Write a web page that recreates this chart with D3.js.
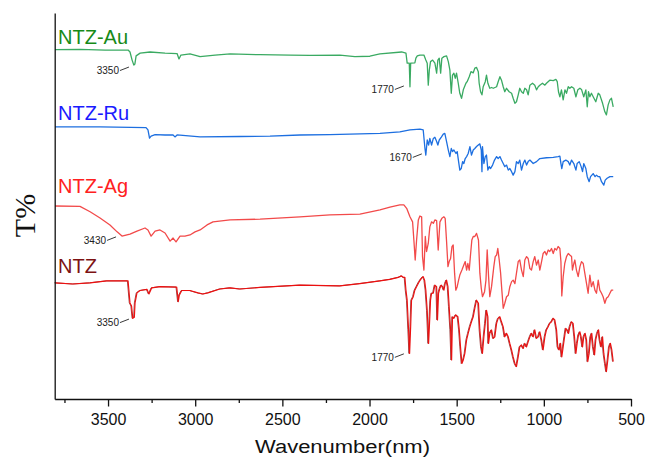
<!DOCTYPE html>
<html>
<head>
<meta charset="utf-8">
<script src="https://cdn.jsdelivr.net/npm/d3@7/dist/d3.min.js"></script>
<style>
  body { margin: 0; background: #fff; }
  svg { display: block; font-family: "Liberation Sans", Arial, sans-serif; }
</style>
</head>
<body>
<div id="chart"></div>
<script>
// FTIR spectra: [wavenumber (cm-1), T% (stacked, arbitrary offset)]
const ntzAu = [
  [3804,90.5],[3660,90.6],[3517,90.4],[3385,90.4],[3374,89.9],[3362,87.8],[3352,86.5],[3346,86.8],
  [3339,88.9],[3316,89.6],[3259,89.9],[3173,89.6],[3104,89.5],[3093,88.1],[3082,89.1],[3030,89.4],
  [2972,88.7],[2886,89.1],[2800,89.4],[2628,89.2],[2456,89.1],[2342,89.0],[2170,89.1],[2084,88.7],
  [1998,88.8],[1960,89.2],
  [1940,89.4],[1816,89.9],[1791,89.6],[1784,87.0],[1772,87.0],[1768,80.9],[1764,87.0],[1740,87.1],
  [1734,88.3],[1726,88.9],[1711,89.1],[1688,89.1],[1677,87.8],[1669,87.0],[1663,81.3],[1657,85.2],
  [1650,87.4],[1638,87.8],[1625,87.0],[1615,84.4],[1608,87.8],[1600,88.3],[1592,84.4],[1585,88.3],
  [1573,88.7],[1558,88.9],[1548,87.4],[1539,85.2],[1531,79.2],[1524,83.9],[1516,84.4],[1508,83.1],
  [1501,84.4],[1491,81.8],[1482,79.2],[1472,77.9],[1462,80.1],[1447,81.8],[1440,82.2],[1428,83.5],
  [1418,84.8],[1405,84.5],[1396,85.7],[1386,85.9],[1376,84.8],[1371,81.8],[1363,79.6],[1355,78.8],
  [1348,80.9],[1336,82.2],[1329,83.9],[1321,81.8],[1310,80.5],[1300,80.7],[1290,80.5],[1271,80.9],
  [1262,82.2],[1252,83.5],[1243,82.6],[1233,80.9],[1224,79.6],[1214,80.5],[1199,79.6],[1185,79.2],
  [1176,77.9],[1166,76.6],[1157,77.0],[1147,78.8],[1138,80.5],[1128,79.6],[1118,79.2],[1109,80.5],
  [1099,80.1],[1090,78.8],[1080,81.3],[1065,81.8],[1052,81.3],[1042,80.1],[1032,80.9],[1023,81.3],
  [1008,81.8],[994,81.3],[985,81.8],[966,82.6],[946,82.5],[931,82.8],[923,82.2],[916,79.6],
  [908,78.3],[899,80.1],[889,77.5],[879,80.1],[870,79.2],[860,80.9],[851,80.5],[841,80.9],
  [828,80.5],[816,78.3],[805,80.1],[793,80.5],[784,80.2],[771,78.3],[759,80.1],[751,75.7],
  [744,79.6],[736,78.3],[727,79.2],[717,78.3],[702,77.0],[688,79.2],[679,78.8],[663,76.6],
  [650,74.4],[641,73.6],[631,76.2],[621,77.5],[612,77.9],[602,75.7]
];

const ntzRu = [
  [3804,70.5],[3546,70.5],[3282,70.3],[3271,69.7],[3262,67.6],[3253,68.1],[3230,68.5],[3173,68.4],
  [3127,68.4],[3116,67.9],[3104,68.4],[2972,67.9],[2743,68.0],[2571,68.1],[2399,68.4],[2227,68.5],
  [2055,68.7],
  [1940,68.8],[1826,69.2],[1768,69.7],[1711,69.9],[1692,69.7],[1682,64.9],[1677,63.2],[1669,67.1],
  [1661,65.8],[1654,67.5],[1644,65.8],[1634,67.5],[1625,67.8],[1615,66.7],[1608,65.8],[1600,67.1],
  [1587,67.9],[1577,68.6],[1568,68.8],[1558,66.7],[1548,64.5],[1539,62.8],[1531,64.9],[1524,64.1],
  [1516,64.5],[1504,63.6],[1497,64.1],[1489,61.5],[1482,59.3],[1474,59.7],[1466,61.5],[1459,61.0],
  [1451,62.3],[1443,62.8],[1434,63.6],[1424,65.4],[1415,63.2],[1405,64.5],[1396,64.9],[1386,65.4],
  [1376,65.8],[1367,66.1],[1359,64.5],[1355,58.9],[1352,65.4],[1344,61.0],[1336,62.8],[1329,63.2],
  [1321,59.3],[1313,60.2],[1306,59.7],[1294,60.6],[1283,61.9],[1271,62.8],[1262,62.3],[1252,62.8],
  [1243,61.9],[1233,61.0],[1224,60.2],[1214,60.6],[1204,59.3],[1195,59.7],[1185,58.9],[1176,58.0],
  [1166,58.9],[1157,61.5],[1147,61.0],[1138,61.9],[1128,59.3],[1118,61.0],[1109,61.9],[1099,60.6],
  [1090,61.5],[1080,61.9],[1061,61.0],[1042,61.5],[1023,62.3],[985,62.5],[946,62.6],[918,62.8],
  [908,62.9],[902,61.0],[897,59.7],[889,61.5],[874,61.9],[860,61.5],[851,60.6],[841,61.9],
  [828,61.0],[816,59.3],[809,61.0],[797,61.5],[786,60.2],[778,58.9],[771,61.0],[759,59.7],
  [751,57.6],[740,56.3],[732,57.6],[717,58.4],[706,57.6],[698,58.0],[688,57.6],[679,57.6],
  [669,56.3],[656,55.4],[648,56.7],[637,57.2],[621,57.6],[602,57.6]
];

const ntzAg = [
  [3804,50.0],[3661,49.9],[3603,48.5],[3546,46.9],[3489,45.1],[3448,43.3],[3420,42.2],[3374,42.7],
  [3334,43.5],[3288,44.3],[3271,43.8],[3253,42.2],[3230,43.5],[3202,43.8],[3173,43.0],[3144,40.9],
  [3127,41.7],[3110,40.7],[3087,42.2],[3059,42.2],[3030,42.5],[3001,43.3],[2972,43.8],[2932,45.1],
  [2898,45.9],[2800,46.4],[2628,46.6],[2399,47.2],[2227,47.7],[2055,47.9],
  [1940,49.0],[1883,49.7],[1826,50.3],[1803,50.3],[1787,49.4],[1768,47.2],[1753,45.9],[1745,40.8],
  [1738,36.0],[1730,41.2],[1720,46.4],[1711,47.4],[1701,47.2],[1696,36.9],[1688,33.4],[1680,42.1],
  [1673,38.2],[1663,40.3],[1654,44.6],[1644,45.9],[1634,45.5],[1625,46.4],[1615,46.2],[1606,38.6],
  [1596,45.9],[1585,46.8],[1573,47.2],[1566,46.8],[1558,40.8],[1550,34.3],[1543,35.6],[1535,36.4],
  [1527,39.5],[1520,39.9],[1512,32.6],[1505,28.2],[1497,29.1],[1489,30.8],[1482,32.1],[1470,33.4],
  [1459,34.7],[1451,35.6],[1443,33.4],[1436,35.1],[1428,33.4],[1420,37.7],[1413,41.2],[1405,42.1],
  [1396,42.1],[1386,42.9],[1375,41.2],[1367,32.6],[1359,28.7],[1352,26.5],[1340,27.8],[1332,30.8],
  [1325,38.6],[1317,31.7],[1310,26.5],[1300,29.1],[1287,34.3],[1279,36.9],[1271,37.3],[1264,39.0],
  [1256,36.0],[1248,32.6],[1241,28.2],[1233,23.5],[1224,24.8],[1214,26.5],[1204,26.9],[1195,29.1],
  [1185,30.4],[1176,30.8],[1166,29.9],[1157,32.6],[1147,35.6],[1138,36.0],[1128,33.4],[1118,31.7],
  [1109,36.0],[1099,36.9],[1090,36.4],[1080,33.8],[1071,33.4],[1061,35.6],[1052,36.9],[1042,34.7],
  [1032,36.0],[1023,33.4],[1013,35.6],[1004,37.7],[994,38.2],[985,37.3],[975,38.6],[966,38.2],
  [956,39.0],[946,37.7],[937,39.0],[927,38.6],[918,39.5],[908,39.0],[902,35.6],[897,26.7],
  [889,31.7],[880,35.1],[870,36.9],[860,37.7],[851,37.3],[841,36.9],[836,33.4],[828,35.1],
  [822,36.0],[813,33.4],[803,31.7],[793,34.3],[784,35.6],[774,35.1],[765,32.6],[755,29.9],
  [746,27.4],[736,32.1],[727,29.1],[717,30.4],[707,28.2],[698,27.4],[688,30.8],[679,28.2],
  [669,27.4],[660,26.5],[650,24.8],[641,26.1],[631,26.5],[621,27.4],[612,28.2],[602,28.2]
];

const ntz = [
  [3804,30.1],[3701,29.8],[3603,30.1],[3507,30.6],[3385,30.6],[3374,24.9],[3365,24.1],[3358,20.9],
  [3349,21.2],[3345,24.9],[3334,27.5],[3316,28.1],[3276,28.4],[3265,27.2],[3249,28.8],[3202,29.1],
  [3106,29.0],[3097,25.2],[3091,26.9],[3077,28.1],[3030,28.1],[2984,27.5],[2955,27.2],[2927,27.5],
  [2858,28.5],[2800,28.8],[2743,28.5],[2628,28.9],[2399,29.5],[2170,29.3],[2055,29.9],
  [1940,30.6],[1883,31.0],[1835,31.5],[1816,31.9],[1806,31.5],[1797,31.5],[1791,28.2],[1784,25.6],
  [1776,17.9],[1770,11.8],[1764,18.7],[1759,25.6],[1749,26.5],[1740,28.2],[1730,29.1],[1715,30.4],
  [1701,31.3],[1692,31.7],[1684,30.8],[1677,28.2],[1669,23.0],[1661,14.4],[1654,21.3],[1650,25.6],
  [1644,27.4],[1634,27.4],[1625,29.5],[1615,29.1],[1610,20.5],[1604,27.4],[1596,28.7],[1589,29.5],
  [1581,29.1],[1573,28.2],[1566,29.9],[1558,30.8],[1550,29.1],[1543,23.9],[1535,17.9],[1529,10.1],
  [1524,21.3],[1516,20.9],[1505,21.8],[1493,21.3],[1485,17.9],[1478,13.5],[1470,9.2],[1462,10.1],
  [1453,11.8],[1443,15.3],[1434,17.0],[1424,18.7],[1415,20.0],[1405,21.3],[1396,23.5],[1386,25.6],
  [1375,24.8],[1367,17.9],[1359,13.5],[1352,11.8],[1344,16.1],[1336,19.6],[1329,23.0],[1321,21.3],
  [1317,14.4],[1310,17.0],[1300,17.9],[1290,15.7],[1281,16.1],[1271,19.6],[1262,20.9],[1252,21.3],
  [1243,20.0],[1233,18.7],[1224,16.1],[1214,17.0],[1204,16.1],[1195,14.4],[1185,12.7],[1176,10.9],
  [1166,9.2],[1157,8.4],[1147,10.9],[1138,13.5],[1128,14.0],[1118,13.1],[1109,14.4],[1099,13.5],
  [1090,14.8],[1080,16.1],[1071,17.0],[1061,16.1],[1052,17.9],[1042,15.7],[1032,16.1],[1023,17.4],
  [1013,15.3],[1004,12.7],[994,16.1],[985,17.9],[975,18.7],[966,19.6],[956,20.0],[946,20.9],
  [937,20.5],[927,17.9],[920,13.5],[912,12.7],[904,14.4],[897,10.9],[889,13.5],[881,16.1],
  [874,18.3],[866,17.9],[858,17.0],[851,18.7],[841,20.0],[832,19.6],[824,16.1],[816,11.8],
  [809,14.4],[801,16.6],[793,17.4],[786,16.1],[778,13.5],[771,16.1],[763,17.0],[755,15.3],
  [748,9.7],[740,11.8],[732,16.1],[725,17.0],[717,13.5],[709,11.4],[702,15.3],[694,17.0],
  [686,17.9],[679,15.3],[671,13.5],[663,16.1],[656,11.8],[648,9.2],[641,7.1],[633,10.1],
  [625,13.5],[618,14.4],[610,12.7],[602,9.7]
];

// series names and where their name sits (T% of the label baseline)
const seriesNames = ['NTZ-Au', 'NTZ-Ru', 'NTZ-Ag', 'NTZ'];
const labelLevels = [92.0, 72.3, 53.3, 32.6];

// peak annotations: text and the point the leader line ends on
const peakTexts = ['3350', '1770', '1670', '3430', '3350', '1770'];
const peakPoints = [[3380, 86.0], [1803, 81.1], [1700, 63.5], [3454, 42.0], [3380, 20.7], [1803, 11.7]];

const majorTicks = [3500, 3000, 2500, 2000, 1500, 1000, 500];
const minorTicks = [3750, 3250, 2750, 2250, 1750, 1250, 750];

const width = 648, height = 457;

const lineColors = ['#3aaa62', '#1d6fe0', '#f24a4a', '#ec1010'];
const textColors = ['#178a17', '#1a1aff', '#ff2020', '#7d1212'];

const xScale = d3.scaleLinear().domain([3806, 500]).range([54.7, 631]);
const yScale = d3.scaleLinear().domain([0, 100]).range([399, 13]);

const svg = d3.select('#chart')
  .append('svg')
  .attr('width', width)
  .attr('height', height);

const line = d3.line()
  .x(d => xScale(d[0]))
  .y(d => yScale(d[1]));

const allSeries = [ntzAu, ntzRu, ntzAg, ntz];

// NTZ trace has a thin darker edge in the original
svg.append('path')
  .datum(ntz)
  .attr('d', line)
  .attr('transform', 'translate(-0.7,0)')
  .attr('fill', 'none')
  .attr('stroke', '#a04848')
  .attr('stroke-width', 1)
  .attr('stroke-linejoin', 'round');

allSeries.forEach((data, i) => {
  svg.append('path')
    .datum(data)
    .attr('d', line)
    .attr('fill', 'none')
    .attr('stroke', lineColors[i])
    .attr('stroke-width', i === 3 ? 1.15 : 1.3)
    .attr('stroke-linejoin', 'round');
});

// series names
svg.append('g')
  .selectAll('text')
  .data(seriesNames)
  .join('text')
  .attr('x', 58)
  .attr('y', (d, i) => yScale(labelLevels[i]))
  .attr('fill', (d, i) => textColors[i])
  .style('font-size', '20px')
  .text(d => d);

// peak labels with short leader lines
const peaks = svg.append('g');
peakTexts.forEach((t, i) => {
  const px = xScale(peakPoints[i][0]);
  const py = yScale(peakPoints[i][1]);
  peaks.append('line')
    .attr('x1', px - 9).attr('y1', py + 3.5)
    .attr('x2', px).attr('y2', py)
    .attr('stroke', '#222')
    .attr('stroke-width', 0.9);
  peaks.append('text')
    .attr('x', px - 10)
    .attr('y', py + 7)
    .attr('text-anchor', 'end')
    .attr('fill', '#222')
    .style('font-size', '10px')
    .text(t);
});

// x axis
const xAxis = svg.append('g')
  .attr('transform', `translate(0, ${yScale(0)})`)
  .call(d3.axisBottom(xScale)
    .tickValues(majorTicks)
    .tickSize(7.5)
    .tickSizeOuter(0)
    .tickPadding(7)
    .tickFormat(d3.format('d')));
xAxis.selectAll('text')
  .style('font-size', '16px')
  .style('font-family', '"Liberation Sans", Arial, sans-serif')
  .attr('fill', '#111');
xAxis.selectAll('line, path').attr('stroke', '#111').attr('stroke-width', 1.3);

const xMinor = svg.append('g')
  .attr('transform', `translate(0, ${yScale(0)})`)
  .call(d3.axisBottom(xScale)
    .tickValues(minorTicks)
    .tickSize(4)
    .tickSizeOuter(0)
    .tickFormat(''));
xMinor.select('.domain').remove();
xMinor.selectAll('line').attr('stroke', '#111').attr('stroke-width', 1.3);

// y axis: plain line, no ticks
const yAxis = svg.append('g')
  .attr('transform', `translate(${xScale(3806)}, 0)`)
  .call(d3.axisLeft(yScale).tickValues([]).tickSizeOuter(0));
yAxis.select('.domain').attr('stroke', '#111').attr('stroke-width', 1.3);

// axis titles
svg.append('text')
  .attr('x', 342.5)
  .attr('y', 453)
  .attr('text-anchor', 'middle')
  .attr('fill', '#111')
  .attr('textLength', 175)
  .attr('lengthAdjust', 'spacingAndGlyphs')
  .style('font-size', '18px')
  .text('Wavenumber(nm)');

svg.append('text')
  .attr('transform', 'translate(35, 215.5) rotate(-90)')
  .attr('text-anchor', 'middle')
  .attr('fill', '#111')
  .style('font-family', '"Liberation Serif", "Times New Roman", serif')
  .style('font-size', '30px')
  .text('T%');
</script>
</body>
</html>
